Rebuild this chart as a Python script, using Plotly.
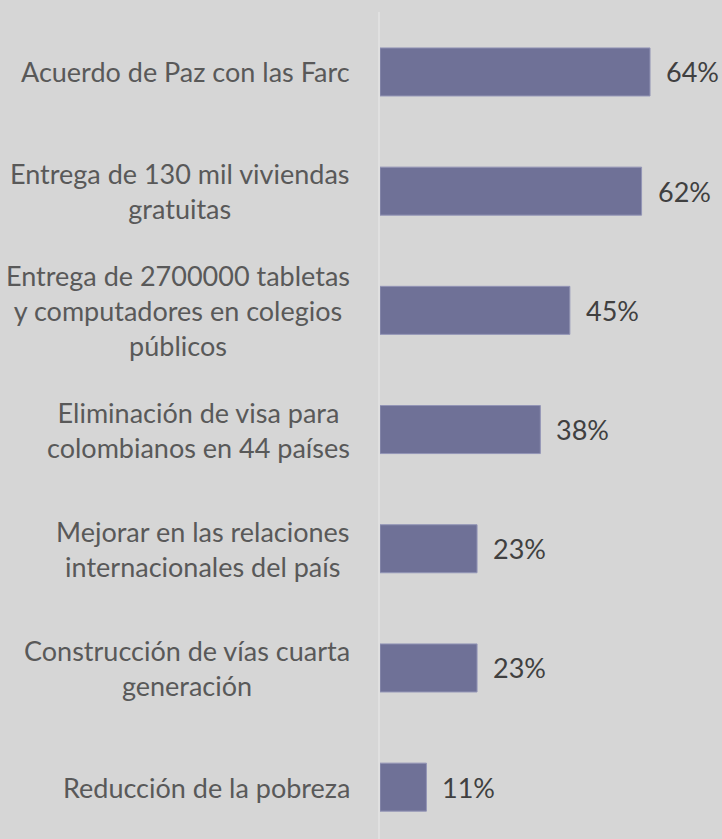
import plotly.graph_objects as go

categories = [
    "Acuerdo de Paz con las Farc",
    "Entrega de 130 mil viviendas<br>gratuitas",
    "Entrega de 2700000 tabletas<br>y computadores en colegios<br>públicos",
    "Eliminación de visa para<br>colombianos en 44 países",
    "Mejorar en las relaciones<br>internacionales del país",
    "Construcción de vías cuarta<br>generación",
    "Reducción de la pobreza",
]
values = [64, 62, 45, 38, 23, 23, 11]
value_labels = [f"{v}%" for v in values]

BG = "#d6d6d6"
BAR = "#6f7197"
FONT = "Lato"

fig = go.Figure()
fig.add_trace(go.Bar(
    x=values,
    y=categories,
    orientation="h",
    width=0.403,
    marker=dict(color=BAR, line=dict(color="#9395b6", width=1)),
    hoverinfo="skip",
))

for cat in categories:
    fig.add_annotation(
        x=0, xref="paper", y=cat, yref="y",
        text=cat, showarrow=False,
        xanchor="right", yanchor="middle", align="center",
        xshift=-28,
        font=dict(family=FONT, size=27, color="#595959"),
    )

for cat, v, lab in zip(categories, values, value_labels):
    fig.add_annotation(
        x=v, xref="x", y=cat, yref="y",
        text=lab, showarrow=False,
        xanchor="left", yanchor="middle",
        xshift=14,
        font=dict(family=FONT, size=27, color="#404040"),
    )

fig.update_layout(
    width=722, height=839,
    margin=dict(l=380, r=0, t=12, b=0),
    paper_bgcolor=BG, plot_bgcolor=BG,
    showlegend=False,
    xaxis=dict(range=[0, 81.06], visible=False, showgrid=False, zeroline=False),
    yaxis=dict(
        type="category",
        categoryorder="array", categoryarray=categories,
        range=[6.435, -0.503],
        showticklabels=False, showgrid=False, zeroline=False,
        showline=True, linecolor="#e0e0e0", linewidth=2,
        ticks="",
    ),
)

fig.write_html(
    "out.html",
    config={"displayModeBar": False},
    post_script="document.body.style.margin='0';document.body.style.overflow='hidden';",
)
